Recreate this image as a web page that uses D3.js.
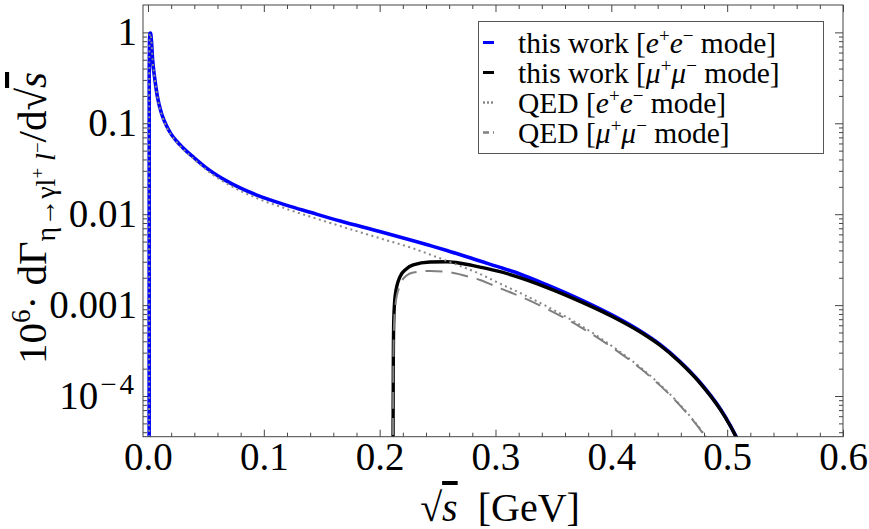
<!DOCTYPE html>
<html>
<head>
<meta charset="UTF-8">
<style>
body { margin: 0; background: #fff; }
svg { display: block; font-family: "Liberation Serif", "Times New Roman", serif; }
</style>
</head>
<body>
<svg width="869" height="529"></svg>
<script src="https://d3js.org/d3.v7.min.js"></script>
<script>

// sqrt(s) grid [GeV] for the e+e- curves
const eeSqrtS = [0.00102, 0.00108, 0.0013, 0.0017, 0.0022, 0.003, 0.004, 0.006, 0.008, 0.012,
  0.016, 0.02, 0.025, 0.03, 0.04, 0.05, 0.065, 0.08, 0.094, 0.12, 0.14, 0.166, 0.2, 0.229, 0.2435,
  0.258, 0.2866, 0.304, 0.321, 0.344, 0.373, 0.402, 0.425, 0.442, 0.459, 0.4766, 0.494, 0.5025, 0.51, 0.52];
// this work, e+e- mode
const eeWork = [1e-5, 0.35, 0.78, 0.97, 0.98, 0.8, 0.5, 0.3, 0.2, 0.125,
  0.094, 0.076, 0.063, 0.054, 0.0415, 0.0325, 0.0243, 0.0193, 0.0162, 0.0125, 0.0105, 0.0084, 0.00644, 0.0051, 0.00452,
  0.00399, 0.00305, 0.0026, 0.0022, 0.001676, 0.001155, 0.00076, 0.000518, 0.000369, 0.000241, 0.000141, 0.0000723, 0.000048, 0.0000312, 0.0000154];
// QED, e+e- mode
const eeQED = [1e-5, 0.345, 0.77, 0.96, 0.97, 0.79, 0.495, 0.297, 0.198, 0.123,
  0.092, 0.0745, 0.0615, 0.0525, 0.040, 0.031, 0.0229, 0.018, 0.015, 0.0114, 0.0094, 0.0074, 0.00545, 0.0042, 0.0036,
  0.00306, 0.0022, 0.00172, 0.001365, 0.000973, 0.000604, 0.000344, 0.000207, 0.000134, 0.000081, 0.0000437, 0.0000203, 0.000013, 0.0000082, 0.0000039];

// sqrt(s) grid [GeV] for the mu+mu- curves
const muSqrtS = [0.2114, 0.2118, 0.2122, 0.2135, 0.2175, 0.223, 0.229, 0.2435, 0.258, 0.2722,
  0.2866, 0.304, 0.3155, 0.344, 0.373, 0.402, 0.425, 0.442, 0.459, 0.4766, 0.494, 0.5025, 0.51, 0.52];
// this work, mu+mu- mode
const muWork = [1e-5, 0.00025, 0.0007, 0.0013, 0.00205, 0.0025, 0.00277, 0.00298, 0.003, 0.00285,
  0.00262, 0.00233, 0.00211, 0.00157, 0.0011, 0.000736, 0.000506, 0.000362, 0.000237, 0.000139, 0.0000714, 0.0000474, 0.0000308, 0.0000152];
// QED, mu+mu- mode
const muQED = [1e-5, 0.0002, 0.0005, 0.00098, 0.00165, 0.0021, 0.00228, 0.00238, 0.00232, 0.00213,
  0.00189, 0.00153, 0.00134, 0.000913, 0.000577, 0.000333, 0.000202, 0.000131, 0.0000795, 0.000043, 0.00002, 0.0000128, 0.0000081, 0.0000039];

const xMajor = [0, 0.1, 0.2, 0.3, 0.4, 0.5, 0.6];
const yMajor = [1e-4, 1e-3, 1e-2, 0.1, 1];
const yLabels = ["10^-4", "0.001", "0.01", "0.1", "1"];

let svg = d3.select("svg");
let pLeft = 143, pRight = 843, pTop = 5, pBottom = 436.7;
let frameColor = "#444";

let x = d3.scaleLinear().domain([-0.0043, 0.6]).range([pLeft, pRight]);
let y = d3.scaleLog().domain([3.57e-5, 2]).range([pBottom, pTop]);

let xMinor = d3.range(0, 0.6001, 0.02).filter(v => Math.abs(v * 10 - Math.round(v * 10)) > 1e-6);
let yMinor = [];
[1e-5, 1e-4, 1e-3, 1e-2, 0.1, 1].forEach(d => {
  for (let k = 2; k <= 9; k++) {
    let v = k * d;
    if (v > 3.57e-5 && v < 2) yMinor.push(v);
  }
});

svg.append("defs").append("clipPath").attr("id", "plotclip")
  .append("rect").attr("x", pLeft).attr("y", pTop).attr("width", pRight - pLeft).attr("height", pBottom - pTop);

// ticks (inward, on all four sides)
function styleAxis(g) {
  g.select(".domain").remove();
  g.selectAll(".tick line").attr("stroke", frameColor);
}
svg.append("g").attr("transform", "translate(0," + pBottom + ")")
  .call(d3.axisBottom(x).tickValues(xMinor).tickSize(-4).tickFormat("")).call(styleAxis);
svg.append("g").attr("transform", "translate(0," + pTop + ")")
  .call(d3.axisTop(x).tickValues(xMinor).tickSize(-4).tickFormat("")).call(styleAxis);
svg.append("g").attr("transform", "translate(0," + pTop + ")")
  .call(d3.axisTop(x).tickValues(xMajor).tickSize(-7).tickFormat("")).call(styleAxis);
let xAx = svg.append("g").attr("transform", "translate(0," + pBottom + ")")
  .call(d3.axisBottom(x).tickValues(xMajor).tickSize(-7).tickPadding(6).tickFormat(d3.format(".1f")))
  .call(styleAxis);
xAx.selectAll("text").attr("font-size", 39).attr("fill", "#000")
  .attr("font-family", "Liberation Serif");

svg.append("g").attr("transform", "translate(" + pLeft + ",0)")
  .call(d3.axisLeft(y).tickValues(yMinor).tickSize(-4).tickFormat("")).call(styleAxis);
svg.append("g").attr("transform", "translate(" + pRight + ",0)")
  .call(d3.axisRight(y).tickValues(yMinor).tickSize(-4).tickFormat("")).call(styleAxis);
svg.append("g").attr("transform", "translate(" + pRight + ",0)")
  .call(d3.axisRight(y).tickValues(yMajor).tickSize(-8).tickFormat("")).call(styleAxis);
let yAx = svg.append("g").attr("transform", "translate(" + pLeft + ",0)")
  .call(d3.axisLeft(y).tickValues(yMajor).tickSize(-8).tickPadding(6).tickFormat((d, i) => yLabels[i]))
  .call(styleAxis);
yAx.selectAll("text").attr("font-size", 39).attr("fill", "#000")
  .attr("font-family", "Liberation Serif")
  .each(function(d, i) {
    let lab = yLabels[i];
    if (lab.indexOf("^") >= 0) {
      let parts = lab.split("^");
      let t = d3.select(this).text(null);
      t.append("tspan").text(parts[0]);
      t.append("tspan").attr("font-size", 29).attr("dx", 2).attr("dy", -15)
        .attr("letter-spacing", 3).text(parts[1].replace("-", "\u2212"));
    }
  });

// curves
let line = d3.line().x(d => x(d[0])).y(d => y(d[1])).curve(d3.curveMonotoneX);
let plot = svg.append("g").attr("clip-path", "url(#plotclip)");

let series = [
  { xs: eeSqrtS, ys: eeWork, color: "#0000ff", width: 3.6, dash: null },
  { xs: muSqrtS, ys: muWork, color: "#000", width: 3.4, dash: null },
  { xs: eeSqrtS, ys: eeQED, color: "#888", width: 2, dash: "2,3.5" },
  { xs: muSqrtS, ys: muQED, color: "#808080", width: 2, dash: "17,9" }
];
plot.selectAll("path").data(series).enter().append("path")
  .attr("d", s => line(s.xs.map((v, i) => [v, s.ys[i]])))
  .attr("fill", "none")
  .attr("stroke", s => s.color)
  .attr("stroke-width", s => s.width)
  .attr("stroke-dasharray", s => s.dash);

// frame
svg.append("rect").attr("x", pLeft).attr("y", pTop).attr("width", pRight - pLeft).attr("height", pBottom - pTop)
  .attr("fill", "none").attr("stroke", frameColor).attr("stroke-width", 1);

// legend
let legendRows = [
  { pre: "this work [", a: "e", b: "e", color: "#0000ff", width: 3, dash: null },
  { pre: "this work [", a: "\u03bc", b: "\u03bc", color: "#000", width: 3, dash: null },
  { pre: "QED [", a: "e", b: "e", color: "#888", width: 2.5, dash: "2,2" },
  { pre: "QED [", a: "\u03bc", b: "\u03bc", color: "#808080", width: 2.5, dash: "6,4" }
];
let lg = svg.append("g");
lg.append("rect").attr("x", 478.5).attr("y", 21.5).attr("width", 345).attr("height", 132)
  .attr("fill", "#fff").attr("stroke", "#555").attr("stroke-width", 1);
legendRows.forEach((r, i) => {
  let by = 52.5 + i * 30;
  lg.append("line").attr("x1", 483).attr("x2", 494).attr("y1", by - 10).attr("y2", by - 10)
    .attr("stroke", r.color).attr("stroke-width", r.width).attr("stroke-dasharray", r.dash);
  let t = lg.append("text").attr("x", 518).attr("y", by).attr("font-size", 29.5);
  t.append("tspan").text(r.pre);
  t.append("tspan").attr("font-style", "italic").text(r.a);
  t.append("tspan").attr("font-size", 19).attr("dy", -11).text("+");
  t.append("tspan").attr("font-style", "italic").attr("dy", 11).text(r.b);
  t.append("tspan").attr("font-size", 19).attr("dy", -11).text("\u2212");
  t.append("tspan").attr("dy", 11).text(" mode]");
});

// x title
let xt = svg.append("text").attr("x", 500).attr("y", 521).attr("text-anchor", "middle").attr("font-size", 40);
xt.append("tspan").text("\u221a");
xt.append("tspan").attr("font-style", "italic").attr("text-decoration", "overline").text("s");
xt.append("tspan").text("\u2002[GeV]");

// y title
let yt = svg.append("text").attr("transform", "translate(46,218) rotate(-90)")
  .attr("text-anchor", "middle").attr("font-size", 41);
yt.append("tspan").text("10");
yt.append("tspan").attr("font-size", 27).attr("dy", -16).text("6");
yt.append("tspan").attr("dy", 16).text("\u00b7 d\u0393");
yt.append("tspan").attr("font-size", 28).attr("dy", 9).text("\u03b7\u2192\u03b3l");
yt.append("tspan").attr("font-size", 19).attr("dy", -11).text("+");
yt.append("tspan").attr("font-size", 28).attr("font-style", "italic").attr("dy", 11).text(" l");
yt.append("tspan").attr("font-size", 19).attr("dy", -11).text("\u2212");
yt.append("tspan").attr("dy", 2).text("/d\u221a");
yt.append("tspan").attr("font-style", "italic").attr("text-decoration", "overline").text("s");

</script>
</body>
</html>
